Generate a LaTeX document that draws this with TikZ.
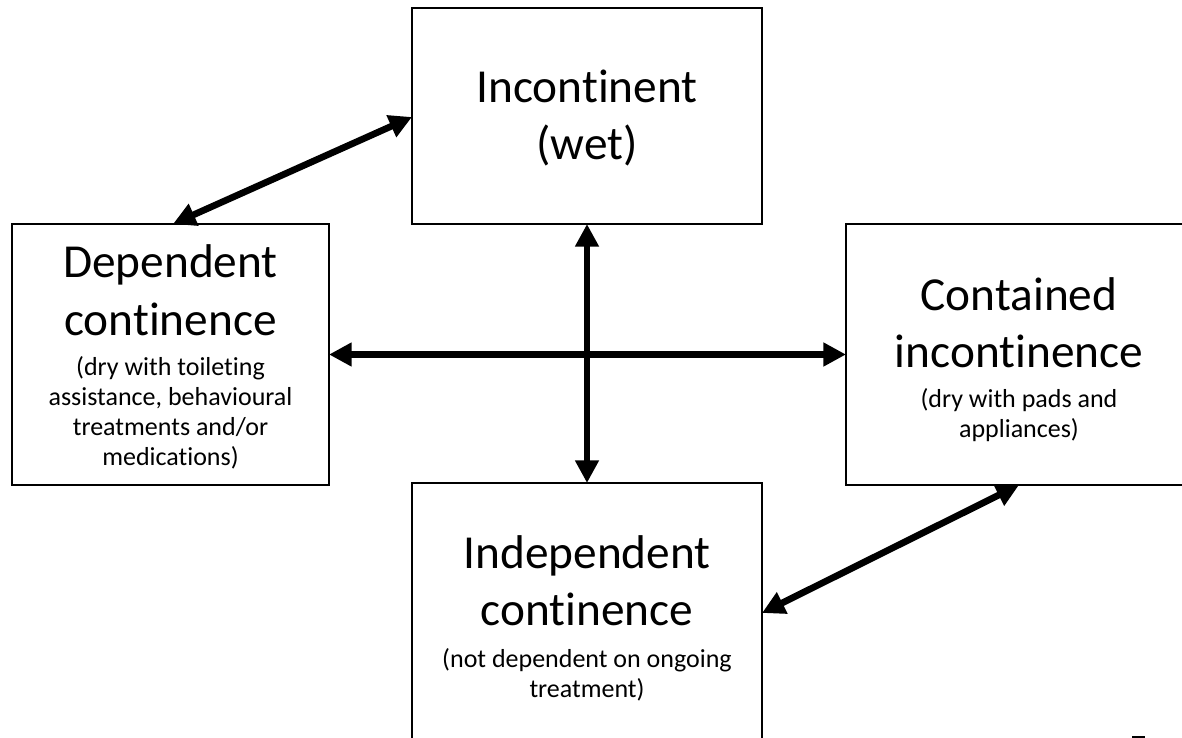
\documentclass[tikz,border=0pt]{standalone}
\usepackage{fontspec}
\setmainfont{Carlito}[Ligatures={NoCommon,NoRequired,NoContextual}]
\usetikzlibrary{arrows.meta,calc}
\begin{document}
\begin{tikzpicture}[x=0.75pt,y=-0.75pt,
  box/.style={draw,line width=1.5pt,rectangle,inner sep=0pt,outer sep=0pt},
  big/.style={anchor=base,inner sep=0pt,font=\fontsize{35.5}{41}\selectfont},
  small/.style={anchor=base,inner sep=0pt,font=\fontsize{19.5}{23}\selectfont},
  link/.style={line width=5pt,{Triangle[length=17pt,width=17pt]}-{Triangle[length=17pt,width=17pt]}}]
\useasboundingbox (0,0) rectangle (1182,738);
\clip (0,0) rectangle (1182,738);
\fill[white] (0,0) rectangle (1182,738);
% boxes
\node[box,minimum width=262.5pt,minimum height=162pt] (inc) at (587,116) {};
\node[box,minimum width=237.75pt,minimum height=195.75pt] (dep) at (170.5,354.5) {};
\node[box,minimum width=259.5pt,minimum height=195.75pt] (con) at (1019,354.5) {};
\node[box,minimum width=262.5pt,minimum height=207.75pt] (ind) at (587,621.5) {};
% texts
\node[big] (incA) at (587,103) {Incontinent};
\node[big] (incB) at (587,160) {(wet)};
\node[big] (depA) at (170.5,277) {Dependent};
\node[big] (depB) at (170.5,335) {continence};
\node[small] (depC) at (170.5,375) {(dry with toileting};
\node[small] (depD) at (170.5,405) {assistance, behavioural};
\node[small] (depE) at (170.5,435) {treatments and/or};
\node[small] (depF) at (170.5,465) {medications)};
\node[big] (conA) at (1019,310) {Contained};
\node[big] (conB) at (1019,367) {incontinence};
\node[small] (conC) at (1019,407) {(dry with pads and};
\node[small] (conD) at (1019,437) {appliances)};
\node[big] (indA) at (587,568) {Independent};
\node[big] (indB) at (587,625) {continence};
\node[small] (indC) at (587,667) {(not dependent on ongoing};
\node[small] (indD) at (587,697) {treatment)};
% connectors
\draw[link] (inc.south) -- (ind.north);
\draw[link] (dep.east) -- (con.west);
\draw[link] ($(dep.north west)+(161,0)$) -- ($(inc.north west)+(0,109)$);
\draw[link] ($(ind.north east)+(0,130)$) -- ($(con.south west)+(173,0)$);
% small mark at the bottom edge
\fill (1132,735.5) rectangle (1145,738);
\end{tikzpicture}
\end{document}
